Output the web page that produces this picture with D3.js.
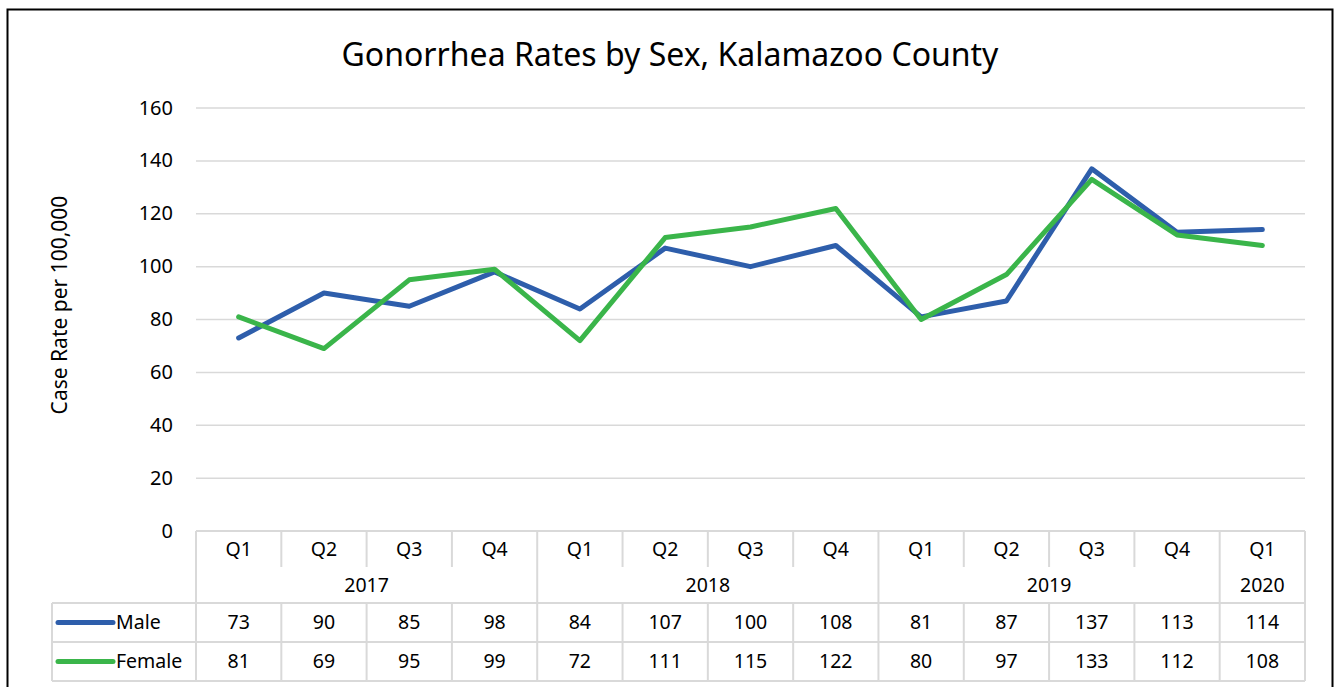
<!DOCTYPE html>
<html>
<head>
<meta charset="utf-8">
<script src="https://cdn.jsdelivr.net/npm/d3@7/dist/d3.min.js"></script>
<style>
  body { margin: 0; background: #fff; }
  text { font-family: "Noto Sans", "Open Sans", sans-serif; fill: #000; }
</style>
</head>
<body>
<svg id="chart" width="1338" height="687"></svg>
<script>
// chart values
const quarters = ['Q1', 'Q2', 'Q3', 'Q4', 'Q1', 'Q2', 'Q3', 'Q4', 'Q1', 'Q2', 'Q3', 'Q4', 'Q1'];
const years = [
    {label: '2017', from: 0, to: 4},
    {label: '2018', from: 4, to: 8},
    {label: '2019', from: 8, to: 12},
    {label: '2020', from: 12, to: 13},
];
const male = [73, 90, 85, 98, 84, 107, 100, 108, 81, 87, 137, 113, 114];
const female = [81, 69, 95, 99, 72, 111, 115, 122, 80, 97, 133, 112, 108];
const yTicks = [0, 20, 40, 60, 80, 100, 120, 140, 160];

const series = [
    {name: 'Male', values: male, color: '#2E5EAB'},
    {name: 'Female', values: female, color: '#3AB54A'},
];

const svg = d3.select('#chart');
const gridColor = '#d9d9d9';
const fs = 19.5;

const plotLeft = 196, plotRight = 1305, plotTop = 108, plotBottom = 531;
const legendLeft = 52;
const rowQ = [531, 567], rowYear = [567, 603];
const rowMale = [603, 642], rowFemale = [642, 681];

// frame
svg.append('rect')
    .attr('x', 7.5).attr('y', 9.5)
    .attr('width', 1325).attr('height', 700)
    .attr('fill', 'none')
    .attr('stroke', '#000')
    .attr('stroke-width', 2);

svg.append('text')
    .attr('x', 670).attr('y', 66)
    .attr('text-anchor', 'middle')
    .attr('font-size', 32)
    .text('Gonorrhea Rates by Sex, Kalamazoo County');

const x = d3.scaleBand()
    .domain(d3.range(quarters.length))
    .range([plotLeft, plotRight]);

const y = d3.scaleLinear()
    .domain([0, 160])
    .range([plotBottom, plotTop]);

// gridlines
svg.append('g')
    .selectAll('line')
    .data(yTicks.filter(d => d > 0))
    .join('line')
    .attr('x1', plotLeft).attr('x2', plotRight)
    .attr('y1', d => y(d)).attr('y2', d => y(d))
    .attr('stroke', gridColor)
    .attr('stroke-width', 1.5);

// y axis labels
const yAxis = svg.append('g')
    .attr('transform', `translate(${plotLeft - 4},0)`)
    .call(d3.axisLeft(y).tickValues(yTicks).tickSize(0).tickPadding(19));
yAxis.select('.domain').remove();
yAxis.selectAll('text')
    .attr('font-size', 20)
    .attr('font-family', '"Noto Sans", sans-serif')
    .attr('fill', '#000')
    .attr('dy', '0.3em');

svg.append('text')
    .attr('transform', 'translate(67,305) rotate(-90)')
    .attr('text-anchor', 'middle')
    .attr('font-size', 21)
    .text('Case Rate per 100,000');

// lines
const line = d3.line()
    .x((d, i) => x(i) + x.bandwidth() / 2)
    .y(d => y(d));

svg.append('g')
    .selectAll('path')
    .data(series)
    .join('path')
    .attr('d', d => line(d.values))
    .attr('fill', 'none')
    .attr('stroke', d => d.color)
    .attr('stroke-width', 5)
    .attr('stroke-linejoin', 'round')
    .attr('stroke-linecap', 'round');

// data table
const table = svg.append('g')
    .attr('stroke', gridColor)
    .attr('stroke-width', 2);

const hLine = (x1, x2, yy) => table.append('line')
    .attr('x1', x1).attr('x2', x2).attr('y1', yy).attr('y2', yy);
const vLine = (xx, y1, y2) => table.append('line')
    .attr('x1', xx).attr('x2', xx).attr('y1', y1).attr('y2', y2);

hLine(plotLeft, plotRight, rowQ[0]);
hLine(legendLeft, plotRight, rowMale[0]);
hLine(legendLeft, plotRight, rowFemale[0]);
hLine(legendLeft, plotRight, rowFemale[1]);

const yearEdges = new Set();
years.forEach(yr => { yearEdges.add(yr.from); yearEdges.add(yr.to); });
d3.range(quarters.length + 1).forEach(i => {
    const xx = i < quarters.length ? x(i) : plotRight;
    if (yearEdges.has(i)) vLine(xx, rowQ[0], rowFemale[1]);
    else {
        vLine(xx, rowQ[0], rowQ[1]);
        vLine(xx, rowMale[0], rowFemale[1]);
    }
});
vLine(legendLeft, rowMale[0], rowFemale[1]);

const cx = i => x(i) + x.bandwidth() / 2;
const midY = r => (r[0] + r[1]) / 2;

svg.append('g')
    .selectAll('text')
    .data(quarters)
    .join('text')
    .attr('x', (d, i) => cx(i))
    .attr('y', midY(rowQ))
    .attr('dy', '0.35em')
    .attr('text-anchor', 'middle')
    .attr('font-size', fs)
    .text(d => d);

svg.append('g')
    .selectAll('text')
    .data(years)
    .join('text')
    .attr('x', d => (x(d.from) + (d.to < quarters.length ? x(d.to) : plotRight)) / 2)
    .attr('y', midY(rowYear))
    .attr('dy', '0.35em')
    .attr('text-anchor', 'middle')
    .attr('font-size', fs)
    .text(d => d.label);

[rowMale, rowFemale].forEach((row, si) => {
    const s = series[si];
    const g = svg.append('g');
    g.append('line')
        .attr('x1', 58).attr('x2', 113)
        .attr('y1', midY(row)).attr('y2', midY(row))
        .attr('stroke', s.color)
        .attr('stroke-width', 5)
        .attr('stroke-linecap', 'round');
    g.append('text')
        .attr('x', 116)
        .attr('y', midY(row))
        .attr('dy', '0.35em')
        .attr('font-size', fs)
        .text(s.name);
    g.selectAll('text.v')
        .data(s.values)
        .join('text')
        .attr('class', 'v')
        .attr('x', (d, i) => cx(i))
        .attr('y', midY(row))
        .attr('dy', '0.35em')
        .attr('text-anchor', 'middle')
        .attr('font-size', fs)
        .text(d => d);
});
</script>
</body>
</html>
